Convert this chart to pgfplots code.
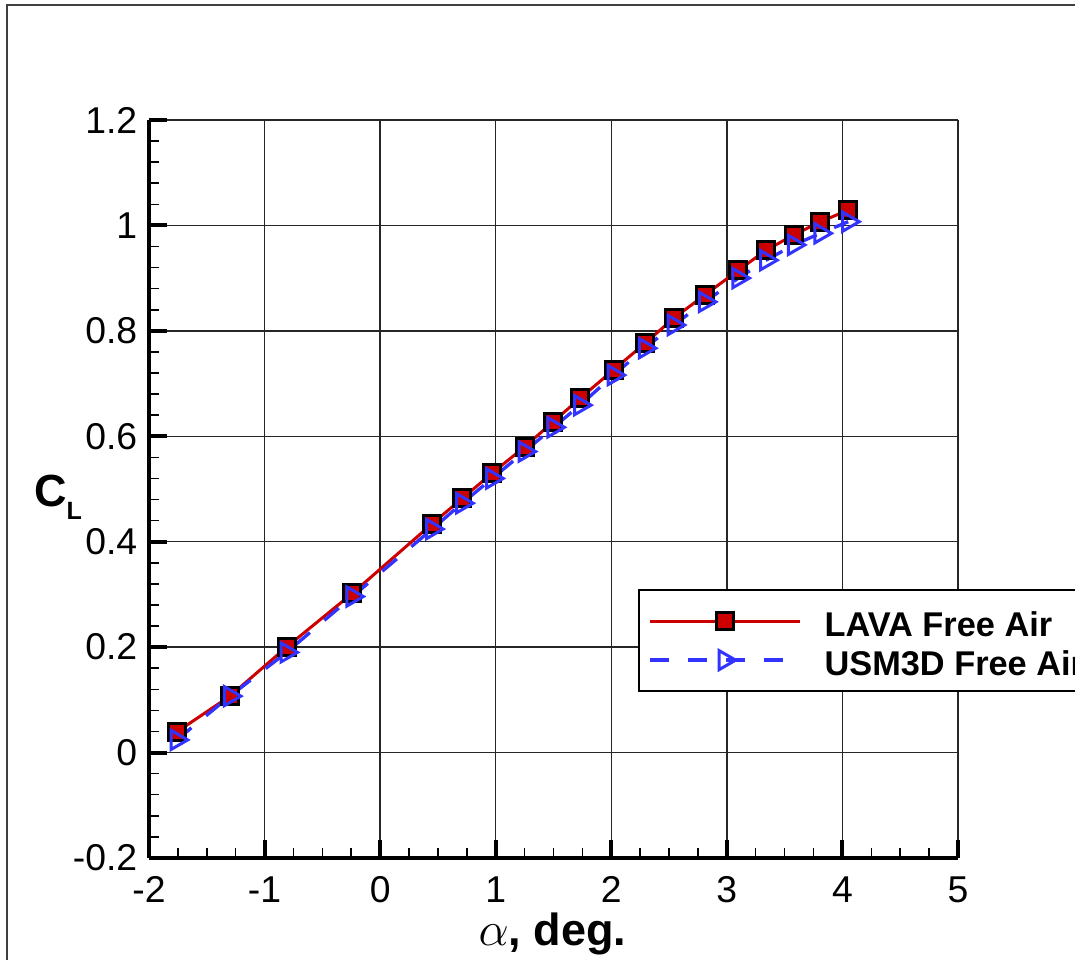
\documentclass[border=0pt]{standalone}
\usepackage{fontspec}
\setmainfont{Liberation Sans}
\usepackage{pgfplots}
\pgfplotsset{compat=1.18}

\definecolor{lavared}{RGB}{204,0,0}
\definecolor{usmblue}{RGB}{51,51,255}

\begin{document}
\begin{tikzpicture}
% page is the clipped window of the original export (0.3pt per pixel)
\path[use as bounding box, clip] (-44.7pt,-30.6pt) rectangle (277.8pt,257.4pt);
\fill[white] (-44.7pt,-30.6pt) rectangle (277.8pt,257.4pt);
\draw[black!75, line width=0.5pt] (-42.6pt,-40pt) -- (-42.6pt,255.9pt) -- (300pt,255.9pt);

\begin{axis}[
  at={(0,0)}, anchor=south west,
  scale only axis,
  width=242.7pt, height=221.4pt,
  xmin=-2, xmax=5,
  ymin=-0.2, ymax=1.2,
  xtick={-2,-1,0,1,2,3,4,5},
  ytick={-0.2,0,0.2,0.4,0.6,0.8,1,1.2},
  minor x tick num=3,
  minor y tick num=4,
  axis lines=left,
  axis line style={-, line width=1.2pt},
  tick align=inside,
  major tick length=5.4pt,
  minor tick length=3pt,
  every major tick/.style={line width=1.2pt, black},
  every minor tick/.style={line width=0.45pt, black},
  grid=major,
  major grid style={line width=0.4pt, black!85},
  /pgf/number format/assume math mode=true,
  tick label style={font=\fontsize{11.2}{13}\selectfont},
  xticklabel style={yshift=-2.1pt},
  xlabel={$\alpha$\textbf{, deg.}},
  ylabel={\textbf{C\raisebox{-4pt}{\fontsize{7.5}{9}\selectfont L}}},
  xlabel style={at={(axis description cs:0.4988,0)}, anchor=center, yshift=-22.8pt, font=\fontsize{13.5}{16}\selectfont},
  ylabel style={at={(axis description cs:0,0.4885)}, rotate=-90, anchor=center, xshift=-27.3pt, font=\fontsize{13.5}{16}\selectfont},
  legend cell align=left,
  legend style={at={(rel axis cs:0.6044,0.3645)}, anchor=north west,
    draw=black, line width=0.6pt, fill=white,
    font=\fontsize{10.3}{12}\selectfont\bfseries,
    inner xsep=2.7pt, inner ysep=3.6pt, row sep=0.2pt,
    nodes={inner sep=1pt, text height=9.5pt, text depth=0pt},
    /tikz/every odd column/.append style={column sep=6pt}},
  legend image code/.code={
    \draw[mark repeat=2, mark phase=2, #1]
      plot coordinates {(0pt,0pt) (22.5pt,0pt) (45pt,0pt)};},
]

\addplot[color=lavared, line width=0.9pt, mark=square*,
  mark size=2.55pt, mark options={solid, fill=lavared, draw=black, line width=0.9pt}]
coordinates {
  (-1.76,0.039) (-1.30,0.107) (-0.81,0.200) (-0.24,0.302)
  (0.45,0.434) (0.71,0.482) (0.97,0.530) (1.25,0.580)
  (1.50,0.628) (1.73,0.672) (2.02,0.726) (2.29,0.776)
  (2.54,0.824) (2.81,0.868) (3.10,0.915) (3.34,0.953)
  (3.58,0.982) (3.81,1.007) (4.05,1.029)
};
\addlegendentry{LAVA Free Air}

\addplot[color=usmblue, line width=1pt, dash pattern=on 5.7pt off 5.7pt,
  mark=triangle, mark size=3.3pt,
  mark options={solid, rotate=-90, fill=white, draw=usmblue, line width=0.9pt}]
coordinates {
  (-1.76,0.024) (-1.30,0.107) (-0.81,0.190) (-0.24,0.296)
  (0.45,0.424) (0.71,0.473) (0.97,0.520) (1.25,0.571)
  (1.50,0.617) (1.73,0.659) (2.02,0.716) (2.29,0.767)
  (2.54,0.811) (2.81,0.855) (3.10,0.900) (3.34,0.934)
  (3.58,0.963) (3.81,0.985) (4.05,1.007)
};
\addlegendentry{USM3D Free Air}

\end{axis}
\end{tikzpicture}
\end{document}
